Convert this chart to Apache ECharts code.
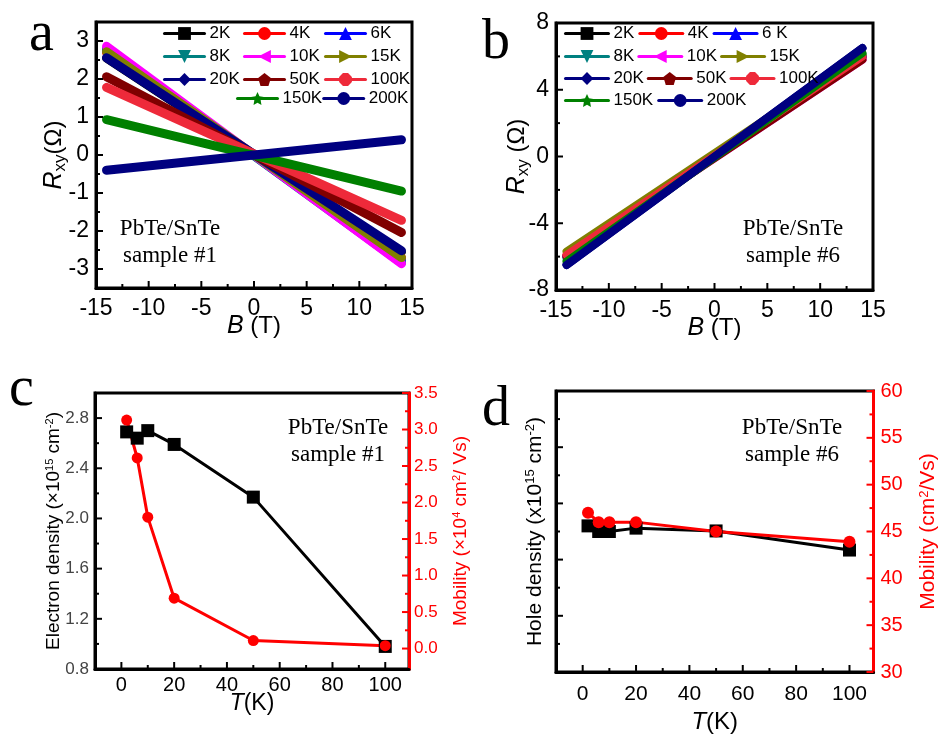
<!DOCTYPE html>
<html>
<head>
<meta charset="utf-8">
<script src="https://cdn.jsdelivr.net/npm/echarts@6.0.0/dist/echarts.min.js"></script>
<style>html,body{margin:0;padding:0;background:#fff}#chart{width:940px;height:735px}</style>
</head>
<body>
<div id="chart"></div>
<script>
var SANS = 'Liberation Sans, Arial, sans-serif';
var SERIF = 'Liberation Serif, Times New Roman, serif';

// panels a, b: Rxy(B) bands, read at the two field ends
var tempNamesA = ['2K','4K','6K','8K','10K','15K','20K','50K','100K','150K','200K'];
var tempNamesB = ['2K','4K','6 K','8K','10K','15K','20K','50K','100K','150K','200K'];
var fieldEnds = [-14, 14];
var rxyA_neg = [2.55, 2.70, 2.76, 2.80, 2.86, 2.72, 2.56, 2.06, 1.78, 0.93, -0.40];
var rxyA_pos = [-2.55, -2.70, -2.78, -2.84, -2.86, -2.70, -2.52, -2.04, -1.72, -0.95, 0.40];
var rxyB_neg = [-6.0, -5.9, -6.0, -6.1, -6.0, -5.7, -6.5, -6.0, -5.9, -6.3, -6.5];
var rxyB_pos = [6.0, 5.9, 6.0, 6.1, 5.8, 6.1, 6.5, 5.8, 6.0, 6.2, 6.5];
var lineColors = ['#000000','#ff0000','#0000ff','#008080','#ff00ff','#808000','#000080','#800000','#ee2a3a','#008000','#000080'];
var PENTAGON = 'path://M0,-10L9.5,-3.1L5.9,8.1L-5.9,8.1L-9.5,-3.1Z';
var HEXAGON = 'path://M-4,-10L4,-10L10,-4L10,4L4,10L-4,10L-10,4L-10,-4Z';
var STAR = 'path://M0,-10L2.9,-4L9.5,-3.1L4.7,1.5L5.9,8.1L0,5L-5.9,8.1L-4.7,1.5L-9.5,-3.1L-2.9,-4Z';
var markers = ['rect','circle','triangle','triangle','triangle','triangle','diamond',PENTAGON,HEXAGON,STAR,'circle'];
var markerRot = [0,0,0,180,90,-90,0,0,0,0,0];

// panel c: sample #1
var tempC = [2, 6, 10, 20, 50, 100];
var electronDensity = [2.69, 2.64, 2.70, 2.59, 2.17, 0.98];
var mobilityC = [3.13, 2.61, 1.80, 0.69, 0.11, 0.04];

// panel d: sample #6 (left axis unlabeled in source, read in tick units)
var tempD = [2, 6, 10, 20, 50, 100];
var holeDensity = [2.60, 2.50, 2.50, 2.56, 2.51, 2.17];
var mobilityD = [47.0, 46.0, 46.0, 46.0, 45.0, 43.9];

// tick labels / tick positions
var fieldTicks = [-15, -10, -5, 0, 5, 10, 15];
var fieldMinor = [-12.5, -7.5, -2.5, 2.5, 7.5, 12.5];
var rxyATicks = [-3, -2, -1, 0, 1, 2, 3];
var rxyAMinor = [-2.5, -1.5, -0.5, 0.5, 1.5, 2.5];
var rxyBTicks = [-8, -4, 0, 4, 8];
var rxyBMinor = [-6, -2, 2, 6];
var tempTicks = [0, 20, 40, 60, 80, 100];
var tempMinor = [10, 30, 50, 70, 90];
var densCTicks = [0.8, 1.2, 1.6, 2.0, 2.4, 2.8];
var densCMinor = [1.0, 1.4, 1.8, 2.2, 2.6];
var muCTicks = [0, 0.5, 1, 1.5, 2, 2.5, 3, 3.5];
var muCMinor = [0.25, 0.75, 1.25, 1.75, 2.25, 2.75, 3.25];
var densDTicks = [0, 1, 2, 3, 4, 5];
var densDMinor = [0.5, 1.5, 2.5, 3.5, 4.5];
var muDTicks = [30, 35, 40, 45, 50, 55, 60];
var muDMinor = [32.5, 37.5, 42.5, 47.5, 52.5, 57.5];

var chart = echarts.init(document.getElementById('chart'));

var grids = [
  {left: 96, top: 22, width: 316, height: 266},
  {left: 556, top: 23, width: 317, height: 267},
  {left: 95, top: 393, width: 314, height: 276},
  {left: 556, top: 391, width: 318, height: 281}
];
var gridOpts = grids.map(function (g) {
  return Object.assign({show: true, borderColor: '#000', borderWidth: 3}, g);
});

function axis(gridIndex, min, max, position, color, labelSize, labelColor, labelVals, extra) {
  return Object.assign({
    type: 'value', gridIndex: gridIndex, min: min, max: max, position: position,
    nameMoveOverlap: false,
    axisLine: {show: true, onZero: false, lineStyle: {color: color, width: 3}},
    axisTick: {show: false},
    axisLabel: {fontFamily: SANS, fontSize: labelSize, color: labelColor || color, customValues: labelVals},
    splitLine: {show: false}
  }, extra);
}

var subRich = {
  i: {fontFamily: SANS, fontStyle: 'italic', fontSize: 25, color: '#000'},
  n: {fontFamily: SANS, fontSize: 24, color: '#000'},
  s: {fontFamily: SANS, fontSize: 17, color: '#000', verticalAlign: 'bottom', padding: [12, 0, 0, 0]}
};
function tkRich(size) {
  return {i: {fontFamily: SANS, fontStyle: 'italic', fontSize: size, color: '#000'}, n: {fontFamily: SANS, fontSize: size, color: '#000'}};
}
function supRich(size, color) {
  return {sup: {fontFamily: SANS, fontSize: Math.round(size * 0.6), color: color, verticalAlign: 'top', padding: [0, 0, 9, 0]}};
}
var oneDec = function (v) { return v.toFixed(1); };

var xAxes = [
  axis(0, -15, 15, 'bottom', '#000', 23, null, fieldTicks,
    {name: '{i|B}{n| (T)}', nameLocation: 'middle', nameGap: 26, nameTextStyle: {rich: subRich}}),
  axis(1, -15, 15, 'bottom', '#000', 23, null, fieldTicks,
    {name: '{i|B}{n| (T)}', nameLocation: 'middle', nameGap: 26, nameTextStyle: {rich: subRich}}),
  axis(2, -10, 109, 'bottom', '#000', 20, null, tempTicks,
    {name: '{i|T}{n|(K)}', nameLocation: 'middle', nameGap: 23, nameTextStyle: {rich: tkRich(23)}}),
  axis(3, -10, 109, 'bottom', '#000', 21, null, tempTicks,
    {name: '{i|T}{n|(K)}', nameLocation: 'middle', nameGap: 38, nameTextStyle: {rich: tkRich(24)}})
];
xAxes[0].axisLabel.margin = 9;
xAxes[1].axisLabel.margin = 9;
xAxes[2].axisLabel.margin = 6;
xAxes[3].axisLabel.margin = 12;

var yAxes = [
  axis(0, -3.5, 3.5, 'left', '#000', 23, null, rxyATicks,
    {name: '{i|R}{s|xy}{n|(Ω)}', nameLocation: 'middle', nameGap: 27, nameTextStyle: {rich: subRich}}),
  axis(1, -8, 8, 'left', '#000', 23, null, rxyBTicks,
    {name: '{i|R}{s|xy}{n| (Ω)}', nameLocation: 'middle', nameGap: 24, nameTextStyle: {rich: subRich}}),
  axis(2, 0.8, 3.0, 'left', '#000', 17, '#444', densCTicks,
    {name: 'Electron density (×10{sup|15} cm{sup|-2})', nameLocation: 'middle', nameGap: 31,
      nameTextStyle: {fontFamily: SANS, fontSize: 19, color: '#000', rich: supRich(19, '#000')}}),
  axis(2, -0.28, 3.5, 'right', '#ff0000', 17, null, muCTicks,
    {name: 'Mobility (×10{sup|4} cm{sup|2}/ Vs)', nameLocation: 'middle', nameGap: 42,
      nameTextStyle: {fontFamily: SANS, fontSize: 19, color: '#ff0000', rich: supRich(19, '#ff0000')}}),
  axis(3, 0, 5, 'left', '#000', 20, null, densDTicks,
    {name: 'Hole density (x10{sup|15} cm{sup|-2})', nameLocation: 'middle', nameGap: 10,
      nameTextStyle: {fontFamily: SANS, fontSize: 21, color: '#000', rich: supRich(21, '#000')}}),
  axis(3, 30, 60, 'right', '#ff0000', 20, null, muDTicks,
    {name: 'Mobility (cm{sup|2}/Vs)', nameLocation: 'middle', nameGap: 44,
      nameTextStyle: {fontFamily: SANS, fontSize: 21, color: '#ff0000', rich: supRich(21, '#ff0000')}})
];
yAxes[0].axisLabel.margin = 7;
yAxes[1].axisLabel.margin = 7;
yAxes[2].axisLabel.margin = 6;
yAxes[2].axisLabel.formatter = oneDec;
yAxes[3].axisLabel.margin = 5;
yAxes[3].axisLabel.formatter = oneDec;
yAxes[4].axisLabel.show = false;
yAxes[5].axisLabel.margin = 7;

function bandSeries(prefix, names, idx, negVals, posVals, width) {
  return names.map(function (t, i) {
    return {
      name: prefix + t, type: 'line', xAxisIndex: idx, yAxisIndex: idx,
      data: [[fieldEnds[0], negVals[i]], [fieldEnds[1], posVals[i]]],
      showSymbol: false, symbol: markers[i], symbolRotate: markerRot[i],
      color: lineColors[i],
      lineStyle: {width: width, cap: 'round', color: lineColors[i]},
      itemStyle: {color: lineColors[i]}
    };
  });
}
function pairs(xs, ys) { return xs.map(function (x, i) { return [x, ys[i]]; }); }
function pointSeries(name, xi, yi, xs, ys, symbol, size, color) {
  return {name: name, type: 'line', xAxisIndex: xi, yAxisIndex: yi, data: pairs(xs, ys),
    symbol: symbol, symbolSize: size, color: color, lineStyle: {width: 3, color: color}, itemStyle: {color: color}};
}

var series = []
  .concat(bandSeries('a|', tempNamesA, 0, rxyA_neg, rxyA_pos, 9))
  .concat(bandSeries('b|', tempNamesB, 1, rxyB_neg, rxyB_pos, 8))
  .concat([
    pointSeries('n1', 2, 2, tempC, electronDensity, 'rect', 13, '#000'),
    pointSeries('mu1', 2, 3, tempC, mobilityC, 'circle', 11, '#ff0000'),
    pointSeries('p6', 3, 4, tempD, holeDensity, 'rect', 13, '#000'),
    pointSeries('mu6', 3, 5, tempD, mobilityD, 'circle', 12, '#ff0000')
  ]);

function legend(left, top, items, orient, gap, itemWidth) {
  return {
    left: left, top: top, orient: orient, padding: 0, itemGap: gap,
    itemWidth: itemWidth, itemHeight: 16, selectedMode: false,
    data: items, lineStyle: {width: 3},
    textStyle: {fontFamily: SANS, fontSize: 17, color: '#000', lineHeight: 16},
    formatter: function (name) { return name.split('|')[1]; }
  };
}
var legends = [
  legend(163, 25, ['a|2K', 'a|8K', 'a|20K'], 'vertical', 6, 40),
  legend(243, 25, ['a|4K', 'a|10K', 'a|50K'], 'vertical', 6, 40),
  legend(324, 25, ['a|6K', 'a|15K', 'a|100K'], 'vertical', 6, 40),
  legend(236, 90, ['a|150K', 'a|200K'], 'horizontal', 0, 40),
  legend(564, 25, ['b|2K', 'b|4K', 'b|6 K'], 'horizontal', 4, 43),
  legend(564, 48, ['b|8K', 'b|10K', 'b|15K'], 'horizontal', 3, 43),
  legend(564, 70, ['b|20K', 'b|50K', 'b|100K'], 'horizontal', 3, 43),
  legend(564, 92, ['b|150K', 'b|200K'], 'horizontal', 4, 43)
];

function label(x, y, text, size, align, vAlign) {
  return {type: 'text', x: x, y: y, silent: true,
    style: {text: text, fontFamily: SERIF, fontSize: size, fill: '#000', align: align, verticalAlign: vAlign, lineHeight: 27}};
}
var graphics = [
  label(29, 49, 'a', 56, 'left', 'bottom'),
  label(482, 57, 'b', 56, 'left', 'bottom'),
  label(9, 404, 'c', 56, 'left', 'bottom'),
  label(482, 424, 'd', 56, 'left', 'bottom'),
  label(170, 242, 'PbTe/SnTe\nsample #1', 23, 'center', 'middle'),
  label(793, 242, 'PbTe/SnTe\nsample #6', 23, 'center', 'middle'),
  label(338, 441, 'PbTe/SnTe\nsample #1', 23, 'center', 'middle'),
  label(792, 441, 'PbTe/SnTe\nsample #6', 23, 'center', 'middle')
];

chart.setOption({
  animation: false,
  backgroundColor: '#fff',
  grid: gridOpts,
  xAxis: xAxes,
  yAxis: yAxes,
  legend: legends,
  series: series,
  graphic: graphics
});

// inward tick marks, placed through the axes' own scales
var MAJ = 7, MIN = 4;
var tickSpecs = [
  [0, 0, fieldTicks, 'bottom', MAJ, '#000'], [0, 0, fieldMinor, 'bottom', MIN, '#000'],
  [0, 0, rxyATicks, 'left', MAJ, '#000'], [0, 0, rxyAMinor, 'left', MIN, '#000'],
  [1, 1, fieldTicks, 'bottom', MAJ, '#000'], [1, 1, fieldMinor, 'bottom', MIN, '#000'],
  [1, 1, rxyBTicks, 'left', MAJ, '#000'], [1, 1, rxyBMinor, 'left', MIN, '#000'],
  [2, 2, tempTicks, 'bottom', MAJ, '#000'], [2, 2, tempMinor, 'bottom', MIN, '#000'],
  [2, 2, densCTicks, 'left', MAJ, '#000'], [2, 2, densCMinor, 'left', MIN, '#000'],
  [2, 3, muCTicks, 'right', MAJ, '#ff0000'], [2, 3, muCMinor, 'right', MIN, '#ff0000'],
  [3, 4, tempTicks, 'bottom', MAJ, '#000'], [3, 4, tempMinor, 'bottom', MIN, '#000'],
  [3, 4, densDTicks, 'left', MAJ, '#000'], [3, 4, densDMinor, 'left', MIN, '#000'],
  [3, 5, muDTicks, 'right', MAJ, '#ff0000'], [3, 5, muDMinor, 'right', MIN, '#ff0000']
];
var tickEls = [];
tickSpecs.forEach(function (s) {
  var xi = s[0], yi = s[1], side = s[3], len = s[4], color = s[5];
  var xa = xAxes[xi], ya = yAxes[yi];
  var finder = {xAxisIndex: xi, yAxisIndex: yi};
  var corner0 = chart.convertToPixel(finder, [xa.min, ya.min]);
  var corner1 = chart.convertToPixel(finder, [xa.max, ya.max]);
  s[2].forEach(function (v) {
    var shape;
    if (side === 'bottom') {
      var px = chart.convertToPixel(finder, [v, ya.min])[0];
      shape = {x1: px, y1: corner0[1], x2: px, y2: corner0[1] - len};
    } else {
      var py = chart.convertToPixel(finder, [xa.min, v])[1];
      var x0 = side === 'left' ? corner0[0] : corner1[0];
      var dir = side === 'left' ? 1 : -1;
      shape = {x1: x0, y1: py, x2: x0 + dir * len, y2: py};
    }
    tickEls.push({type: 'line', silent: true, z: 100, shape: shape, style: {stroke: color, lineWidth: 2}});
  });
});
chart.setOption({graphic: {elements: graphics.concat(tickEls)}});
</script>
</body>
</html>
